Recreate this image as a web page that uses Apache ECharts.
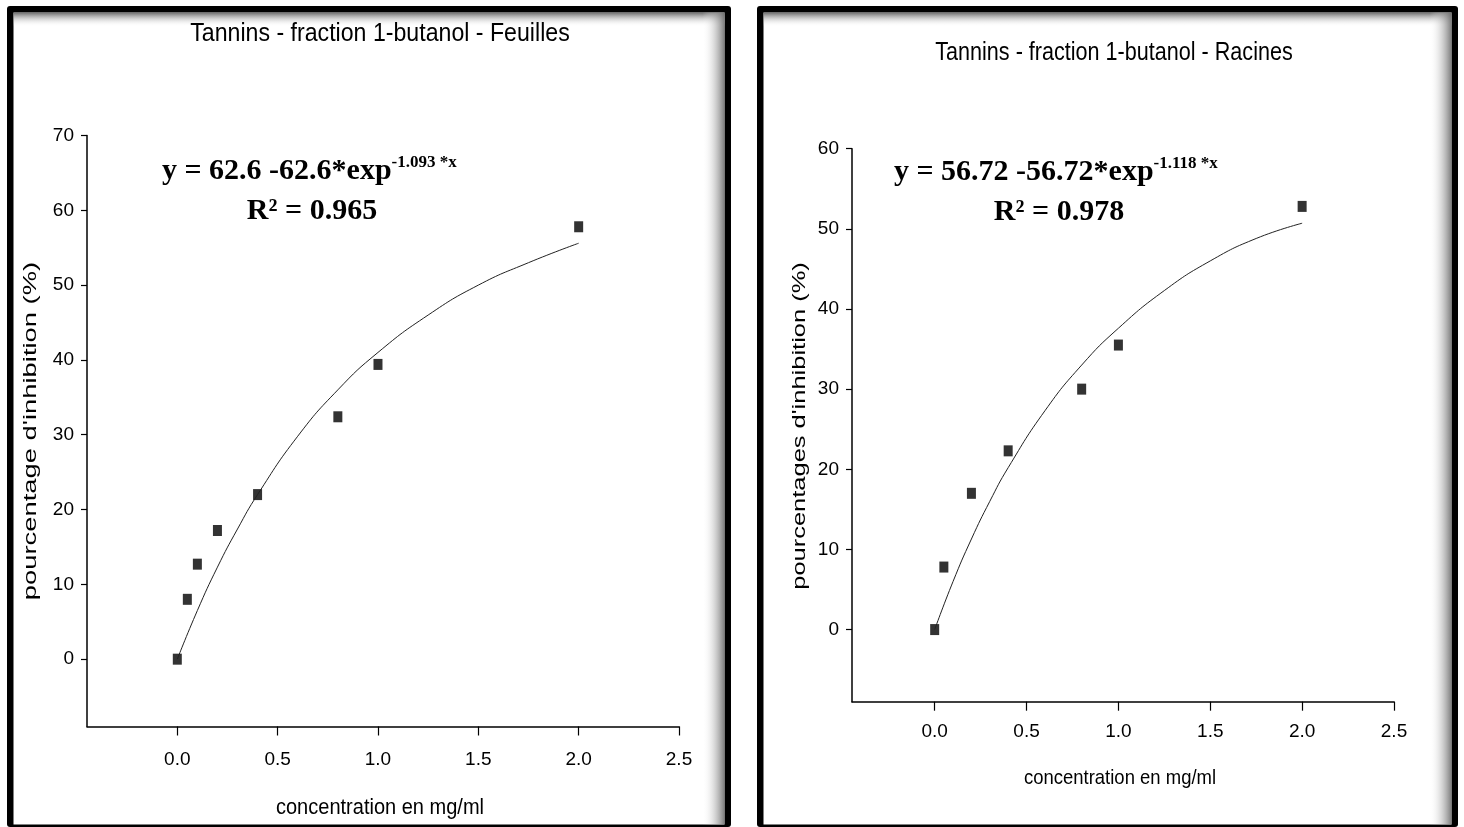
<!DOCTYPE html>
<html>
<head>
<meta charset="utf-8">
<script src="https://cdn.jsdelivr.net/npm/echarts@6/dist/echarts.min.js"></script>
<style>html,body{margin:0;padding:0;background:#fff}#c{width:1464px;height:827px}</style>
</head>
<body>
<div id="c"></div>
<script>
// ---- Data ----
const titleLeft = 'Tannins - fraction 1-butanol - Feuilles';
const titleRight = 'Tannins - fraction 1-butanol - Racines';
const xName = 'concentration en mg/ml';
const yNameLeft = "pourcentage d'inhibition (%)";
const yNameRight = "pourcentages d'inhibition (%)";
const xTicks = [0, 0.5, 1.0, 1.5, 2.0, 2.5];
const yTicksLeft = [0, 10, 20, 30, 40, 50, 60, 70];
const yTicksRight = [0, 10, 20, 30, 40, 50, 60];

const feuillesX = [0, 0.05, 0.1, 0.2, 0.4, 0.8, 1.0, 2.0];
const feuillesY = [0, 8.0, 12.7, 17.2, 22.0, 32.4, 39.4, 57.8];
const racinesX = [0, 0.05, 0.2, 0.4, 0.8, 1.0, 2.0];
const racinesY = [0, 7.8, 17.0, 22.3, 30.0, 35.5, 52.8];

// fitted curves
const fitX = [0, 0.1, 0.2, 0.3, 0.4, 0.6, 0.8, 1.0, 1.25, 1.5, 1.75, 2.0];
const fitFeuillesY = [0, 6.5, 12.3, 17.4, 22.0, 29.8, 36.0, 41.0, 46.0, 50.0, 53.0, 55.6];
const fitRacinesY = [0, 6.0, 11.3, 16.0, 20.2, 27.3, 33.0, 37.6, 42.3, 46.0, 48.8, 50.7];

const eqLeft = ['y = 62.6 -62.6*exp', '-1.093 *x', 'R² = 0.965'];
const eqRight = ['y = 56.72 -56.72*exp', '-1.118 *x', 'R² = 0.978'];

const SANS = "'Liberation Sans', Arial, sans-serif";
const SERIF = "'Liberation Serif', 'Times New Roman', serif";

const pairs = (xs, ys) => xs.map((x, i) => [x, ys[i]]);

function xAxisCfg(gi, margin) {
  return {
    type: 'value', gridIndex: gi, min: -0.45, max: 2.5,
    axisLine: { onZero: false, lineStyle: { color: '#000', width: 1.5 } },
    axisTick: { show: true, customValues: xTicks, length: 9, lineStyle: { color: '#000', width: 1.2 } },
    axisLabel: { customValues: xTicks, margin: margin, fontFamily: SANS, fontSize: 19, color: '#000',
      formatter: v => v.toFixed(1) },
    splitLine: { show: false }
  };
}
function yAxisCfg(gi, max, ticks) {
  return {
    type: 'value', gridIndex: gi, min: -9, max: max,
    axisLine: { onZero: false, lineStyle: { color: '#000', width: 1.5 } },
    axisTick: { show: true, customValues: ticks, length: 6, lineStyle: { color: '#000', width: 1.2 } },
    axisLabel: { customValues: ticks, margin: 13, fontFamily: SANS, fontSize: 19, color: '#000' },
    splitLine: { show: false }
  };
}

function txt(text, x, y, size, sx, rot) {
  return { type: 'text', x: x, y: y, scaleX: sx, rotation: rot || 0, z: 10,
    style: { text: text, fontFamily: SANS, fontSize: size, fill: '#000', align: 'center', verticalAlign: 'middle' } };
}

function eqText(x, y, eq, cx) {
  return [
    { type: 'text', x: x, y: y, z: 10,
      style: { text: '{m|' + eq[0] + '}{s|' + eq[1] + '}', verticalAlign: 'middle',
        rich: {
          m: { fontFamily: SERIF, fontWeight: 'bold', fontSize: 30, fill: '#000', lineHeight: 34 },
          s: { fontFamily: SERIF, fontWeight: 'bold', fontSize: 17, fill: '#000', verticalAlign: 'top', lineHeight: 34, padding: [0, 0, 5, 0] }
        } } },
    { type: 'text', z: 10, x: cx, y: y + 40,
      style: { text: eq[2], fontFamily: SERIF, fontWeight: 'bold', fontSize: 30, fill: '#000', align: 'center', verticalAlign: 'middle' } }
  ];
}

function frame(x, y, w, h) {
  return [
    { type: 'rect', shape: { x: x, y: y, width: w, height: h, r: 3 }, style: { fill: '#000' }, z: -10 },
    { type: 'rect', shape: { x: x + 6.5, y: y + 6.5, width: w - 13, height: h - 9 }, style: { fill: '#fff' }, z: -9 },
    { type: 'rect', shape: { x: x + 6.5, y: y + 6.5, width: w - 13, height: 14 },
      style: { fill: new echarts.graphic.LinearGradient(0, 0, 0, 1, [{ offset: 0, color: 'rgba(90,90,90,0.9)' }, { offset: 1, color: 'rgba(255,255,255,0)' }]) }, z: -8 },
    { type: 'rect', shape: { x: x + w - 6.5 - 22, y: y + 6.5, width: 22, height: h - 9 },
      style: { fill: new echarts.graphic.LinearGradient(0, 0, 1, 0, [{ offset: 0, color: 'rgba(255,255,255,0)' }, { offset: 1, color: 'rgba(110,110,110,0.9)' }]) }, z: -8 }
  ];
}

const chart = echarts.init(document.getElementById('c'), null, { renderer: 'canvas' });
chart.setOption({
  backgroundColor: '#fff',
  animation: false,
  graphic: [].concat(
    frame(7, 6, 724, 821),
    frame(757, 6, 701, 821),
    [
      txt(titleLeft, 380, 34, 26, 0.89),
      txt(titleRight, 1114, 53, 26, 0.83),
      txt(xName, 380, 808, 22, 0.91),
      txt(xName, 1120, 778, 21, 0.88),
      txt(yNameLeft, 31, 431, 19, 1.44, Math.PI / 2),
      txt(yNameRight, 800, 426, 19, 1.34, Math.PI / 2)
    ],
    eqText(162, 171, eqLeft, 312),
    eqText(894, 172, eqRight, 1059)
  ),
  grid: [
    { left: 87, top: 135.5, width: 592, height: 591 },
    { left: 852, top: 148.7, width: 542, height: 553 }
  ],
  xAxis: [xAxisCfg(0, 24), xAxisCfg(1, 21)],
  yAxis: [yAxisCfg(0, 70, yTicksLeft), yAxisCfg(1, 60, yTicksRight)],
  series: [
    { type: 'line', xAxisIndex: 0, yAxisIndex: 0, data: pairs(fitX, fitFeuillesY), smooth: true,
      showSymbol: false, lineStyle: { color: '#222', width: 1 }, silent: true },
    { type: 'scatter', xAxisIndex: 0, yAxisIndex: 0, data: pairs(feuillesX, feuillesY),
      symbol: 'rect', symbolSize: [9, 11], itemStyle: { color: '#000' } },
    { type: 'line', xAxisIndex: 1, yAxisIndex: 1, data: pairs(fitX, fitRacinesY), smooth: true,
      showSymbol: false, lineStyle: { color: '#222', width: 1 }, silent: true },
    { type: 'scatter', xAxisIndex: 1, yAxisIndex: 1, data: pairs(racinesX, racinesY),
      symbol: 'rect', symbolSize: [9, 11], itemStyle: { color: '#000' } }
  ]
});
</script>
</body>
</html>
